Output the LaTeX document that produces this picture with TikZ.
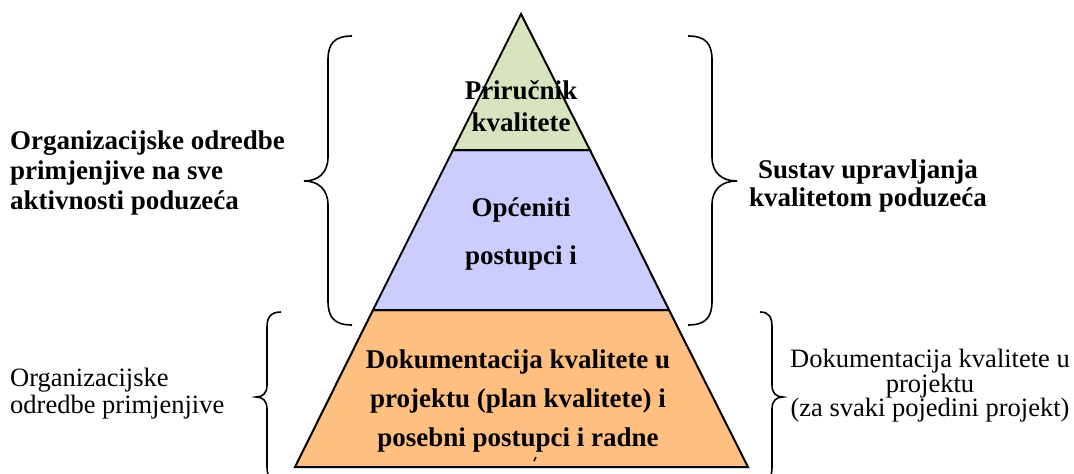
\documentclass[tikz,border=0pt]{standalone}
\usepackage{fontspec}
\setmainfont{Liberation Serif}
\definecolor{topgreen}{RGB}{215,228,189}
\definecolor{midpurple}{RGB}{204,204,255}
\definecolor{botorange}{RGB}{255,191,128}
\tikzset{
  layer/.style={draw=black, line width=2pt, line join=miter},
  bracepath/.style={draw=black, line width=1.6pt},
  boldtxt/.style={font=\fontsize{27}{30}\selectfont\bfseries, inner sep=0pt},
  plaintxt/.style={font=\fontsize{26.5}{27}\selectfont, inner sep=0pt}
}
\begin{document}
\begin{tikzpicture}[x=1pt,y=-1pt]
\useasboundingbox (0,0) rectangle (1074,474);
% pyramid corners
\coordinate (apex) at (521,14);
\coordinate (gL) at (453,150);
\coordinate (gR) at (590,150);
\coordinate (pL) at (373,310);
\coordinate (pR) at (669,310);
\coordinate (oL) at (295,467);
\coordinate (oR) at (748,467);
\path[layer, fill=botorange] (pL) -- (pR) -- (oR) -- (oL) -- cycle;
\path[layer, fill=midpurple] (gL) -- (gR) -- (pR) -- (pL) -- cycle;
\path[layer, fill=topgreen] (apex) -- (gR) -- (gL) -- cycle;

% braces
\path[bracepath] (352,36) .. controls (334,36) and (328,44) .. (328,60)
  -- (328,157) .. controls (328,173) and (318,181) .. (304,181)
  .. controls (318,181) and (328,189) .. (328,205)
  -- (328,301) .. controls (328,317) and (334,325) .. (352,325);
\path[bracepath] (688,36) .. controls (706,36) and (712,44) .. (712,60)
  -- (712,157) .. controls (712,173) and (722,181) .. (737,181)
  .. controls (722,181) and (712,189) .. (712,205)
  -- (712,301) .. controls (712,317) and (706,325) .. (688,325);
\path[bracepath] (281,312) .. controls (271,312) and (267,317) .. (267,327)
  -- (267,385) .. controls (267,393) and (263,397) .. (256,397)
  .. controls (263,397) and (267,401) .. (267,409)
  -- (267,467) .. controls (267,477) and (271,482) .. (281,482);
\path[bracepath] (760,312) .. controls (769,312) and (772,317) .. (772,327)
  -- (772,385) .. controls (772,393) and (776,397) .. (783,397)
  .. controls (776,397) and (772,401) .. (772,409)
  -- (772,467) .. controls (772,477) and (769,482) .. (760,482);

% texts in pyramid
\node[boldtxt, align=center, font=\fontsize{27}{32}\selectfont\bfseries] (top) at (521,106) {Priručnik\\kvalitete};
\node[boldtxt, align=center, font=\fontsize{27}{48}\selectfont\bfseries] (mid) at (521,234) {Općeniti\\postupci i};
\node[boldtxt, align=center, font=\fontsize{27}{39}\selectfont\bfseries] (bot) at (518,401) {Dokumentacija kvalitete u\\projektu (plan kvalitete) i\\posebni postupci i radne};
\draw[line width=1.5pt] (536,457) -- (534,461);

% side texts
\node[boldtxt, align=left, anchor=west] (lt) at (10,173) {Organizacijske odredbe\\primjenjive na sve\\aktivnosti poduzeća};
\node[boldtxt, align=center, font=\fontsize{27}{28}\selectfont\bfseries] (rt) at (868,186) {Sustav upravljanja\\kvalitetom poduzeća};
\node[plaintxt, align=left, anchor=west] (lb) at (10,394) {Organizacijske\\odredbe primjenjive};
\node[plaintxt, align=center, font=\fontsize{26.5}{24.5}\selectfont] (rb) at (930,386) {Dokumentacija kvalitete u\\projektu\\(za svaki pojedini projekt)};
\end{tikzpicture}
\end{document}
